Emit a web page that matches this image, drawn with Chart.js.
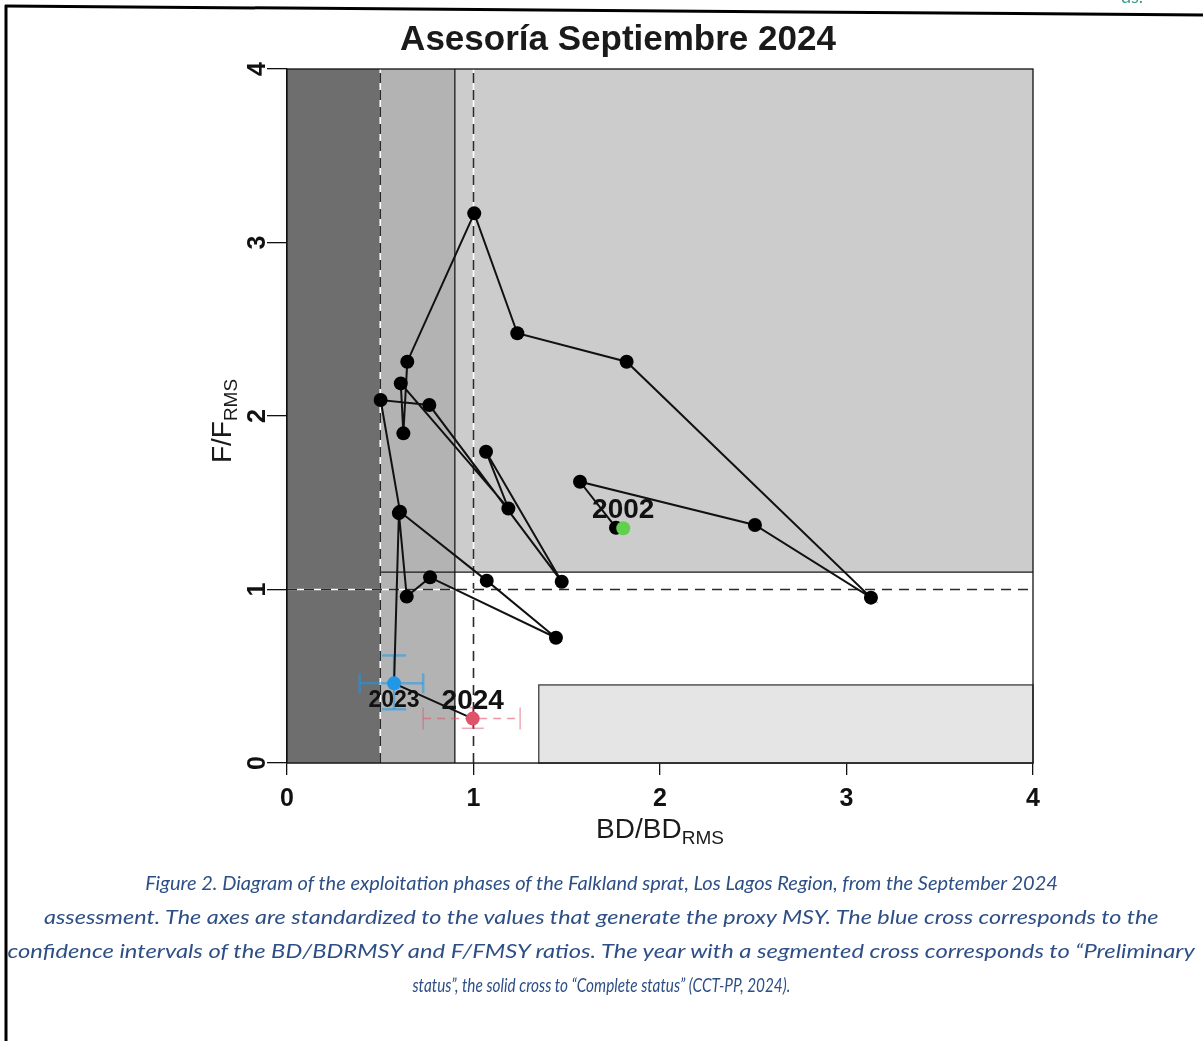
<!DOCTYPE html>
<html>
<head>
<meta charset="utf-8">
<script src="https://cdn.jsdelivr.net/npm/chart.js@4.4.1/dist/chart.umd.min.js"></script>
<style>
  html, body { margin: 0; padding: 0; background: #fff; }
  #wrap { position: relative; width: 1203px; height: 1041px; overflow: hidden; background: #fff; }
  #c { position: absolute; left: 0; top: 0; }
  #frame { position: absolute; left: 0; top: 0; pointer-events: none; }
  .cap { position: absolute; left: -1000px; width: 3203px; text-align: center; white-space: nowrap;
         font-family: Lato, "Open Sans", sans-serif; font-style: italic; font-size: 20px;
         line-height: 24px; color: #2d4f86; }
  .cap span { display: inline-block; transform-origin: center center; }
  #hdr { position: absolute; left: 1121px; top: -15px; font-family: Lato, sans-serif; font-size: 18px; color: #3a9c8c; }
</style>
</head>
<body>
<div id="wrap">
  <canvas id="c" width="1203" height="1041"></canvas>
  <svg id="frame" width="1203" height="1041">
    <line x1="6" y1="5" x2="6" y2="1041" stroke="#000" stroke-width="3"/>
    <line x1="5" y1="6" x2="1203" y2="15" stroke="#000" stroke-width="3"/>
  </svg>
  <div id="hdr">ds.</div>
  <div class="cap" style="top:870px"><span data-w="913">Figure 2. Diagram of the exploitation phases of the Falkland sprat, Los Lagos Region, from the September 2024</span></div>
  <div class="cap" style="top:904px"><span data-w="1115">assessment. The axes are standardized to the values that generate the proxy MSY. The blue cross corresponds to the</span></div>
  <div class="cap" style="top:938px"><span data-w="1187">confidence intervals of the BD/BDRMSY and F/FMSY ratios. The year with a segmented cross corresponds to “Preliminary</span></div>
  <div class="cap" style="top:972px"><span data-w="378">status”, the solid cross to “Complete status” (CCT-PP, 2024).</span></div>
</div>
<script>
// Stock trajectory 2002-2024: biomass ratio BD/BD_RMS and fishing ratio F/F_RMS
const years   = [2002, 2003, 2004, 2005, 2006, 2007, 2008, 2009, 2010, 2011, 2012,
                 2013, 2014, 2015, 2016, 2017, 2018, 2019, 2020, 2021, 2022, 2023, 2024];
const bdRatio = [1.764, 1.571, 2.509, 3.131, 1.821, 1.235, 1.004, 0.645, 0.624, 0.610, 1.187,
                 1.067, 1.473, 0.763, 0.502, 0.606, 1.071, 1.442, 0.767, 0.642, 0.600, 0.574, 0.996];
const fRatio  = [1.356, 1.621, 1.372, 0.953, 2.313, 2.477, 3.168, 2.313, 1.900, 2.188, 1.467,
                 1.794, 1.045, 2.063, 2.092, 1.448, 1.051, 0.722, 1.070, 0.959, 1.440, 0.459, 0.256];

// start-year marker
const startBD = [1.803];
const startF  = [1.353];

// confidence intervals: 2023 (complete status) and 2024 (preliminary status)
const ci2023BD = [0.39, 0.73];
const ci2023F  = [0.31, 0.62];
const ci2024BD = [0.73, 1.25];
const ci2024F  = [0.20, 0.32];

// reference points and zone limits
const bdLimit = 0.5, bdTarget = 1, fTarget = 1;
const bdZone = 0.9, fZone = 1.1;
const recoveryBD = 1.35, recoveryF = 0.45;

const axisMin = 0, axisMax = 4;
const tickStep = 1;
const labelledYears = [2002, 2023, 2024];

const FONT = '"Liberation Sans", Arial, sans-serif';
const nLast = years.length - 1;
const pointColors = years.map((y, i) => i === nLast ? '#DF536B' : (i === nLast - 1 ? '#2297E6' : '#000000'));

const zonesPlugin = {
  id: 'zones',
  beforeDatasetsDraw(chart) {
    const { ctx, chartArea: a, scales: { x, y } } = chart;
    const px = v => x.getPixelForValue(v);
    const py = v => y.getPixelForValue(v);
    ctx.save();
    ctx.fillStyle = '#ffffff';
    ctx.fillRect(a.left, a.top, a.right - a.left, a.bottom - a.top);
    // collapse zone
    ctx.fillStyle = '#6e6e6e';
    ctx.fillRect(px(axisMin), py(axisMax), px(bdLimit) - px(axisMin), py(axisMin) - py(axisMax));
    // overexploited biomass
    ctx.fillStyle = '#b3b3b3';
    ctx.fillRect(px(bdLimit), py(axisMax), px(bdZone) - px(bdLimit), py(axisMin) - py(axisMax));
    // overfishing
    ctx.fillStyle = '#cccccc';
    ctx.fillRect(px(bdZone), py(axisMax), px(axisMax) - px(bdZone), py(fZone) - py(axisMax));
    // under-exploited
    ctx.fillStyle = '#e5e5e5';
    ctx.fillRect(px(recoveryBD), py(recoveryF), px(axisMax) - px(recoveryBD), py(axisMin) - py(recoveryF));
    ctx.strokeStyle = '#3c3c3c';
    ctx.lineWidth = 1.3;
    ctx.strokeRect(px(recoveryBD), py(recoveryF), px(axisMax) - px(recoveryBD), py(axisMin) - py(recoveryF));

    // solid zone borders
    ctx.strokeStyle = '#1a1a1a';
    ctx.lineWidth = 1.3;
    ctx.beginPath();
    ctx.moveTo(px(bdZone), py(axisMin)); ctx.lineTo(px(bdZone), py(axisMax));
    ctx.moveTo(px(bdLimit), py(fZone)); ctx.lineTo(px(axisMax), py(fZone));
    ctx.stroke();

    // reference dashed lines (white under-stroke, dark dashes)
    const refs = [
      [px(bdLimit), py(axisMin), px(bdLimit), py(axisMax)],
      [px(bdTarget), py(axisMin), px(bdTarget), py(axisMax)],
      [px(axisMin), py(fTarget), px(axisMax), py(fTarget)]
    ];
    refs.forEach(r => {
      ctx.setLineDash([]);
      ctx.strokeStyle = '#ffffff';
      ctx.lineWidth = 1.6;
      ctx.beginPath(); ctx.moveTo(r[0], r[1]); ctx.lineTo(r[2], r[3]); ctx.stroke();
      ctx.setLineDash([10, 7]);
      ctx.strokeStyle = '#2a2a2a';
      ctx.lineWidth = 1.6;
      ctx.beginPath(); ctx.moveTo(r[0], r[1]); ctx.lineTo(r[2], r[3]); ctx.stroke();
    });
    ctx.setLineDash([]);
    // plot box
    ctx.strokeStyle = '#111';
    ctx.lineWidth = 1.3;
    ctx.strokeRect(a.left, a.top, a.right - a.left, a.bottom - a.top);
    ctx.restore();
  }
};

const textPlugin = {
  id: 'texts',
  afterDatasetsDraw(chart) {
    const { ctx, scales: { x, y } } = chart;
    ctx.save();
    ctx.fillStyle = '#111';
    ctx.textAlign = 'center';
    ctx.textBaseline = 'middle';
    const i0 = years.indexOf(labelledYears[0]);
    const i1 = years.indexOf(labelledYears[1]);
    const i2 = years.indexOf(labelledYears[2]);
    ctx.font = 'bold 28px ' + FONT;
    ctx.fillText(String(years[i0]), x.getPixelForValue(startBD[0]), y.getPixelForValue(startF[0]) - 18);
    ctx.font = 'bold 23px ' + FONT;
    ctx.fillText(String(years[i1]), x.getPixelForValue(bdRatio[i1]), y.getPixelForValue(fRatio[i1]) + 17);
    ctx.font = 'bold 28px ' + FONT;
    ctx.fillText(String(years[i2]), x.getPixelForValue(bdRatio[i2]), y.getPixelForValue(fRatio[i2]) - 17);
    ctx.restore();
  },
  afterDraw(chart) {
    const { ctx, chartArea: a } = chart;
    ctx.save();
    ctx.fillStyle = '#1a1a1a';
    ctx.textBaseline = 'alphabetic';
    ctx.textAlign = 'left';
    // x-axis title with subscript
    const main = 'BD/BD', sub = 'RMS';
    ctx.font = '28px ' + FONT;
    const wm = ctx.measureText(main).width;
    ctx.font = '19px ' + FONT;
    const ws = ctx.measureText(sub).width;
    const cx = (a.left + a.right) / 2;
    const sx = cx - (wm + ws) / 2;
    ctx.font = '28px ' + FONT;
    ctx.fillText(main, sx, 838);
    ctx.font = '19px ' + FONT;
    ctx.fillText(sub, sx + wm, 844);
    // y-axis title with subscript (rotated)
    const ymain = 'F/F';
    ctx.font = '28px ' + FONT;
    const wym = ctx.measureText(ymain).width;
    ctx.font = '19px ' + FONT;
    const wys = ctx.measureText(sub).width;
    ctx.translate(231, 421);
    ctx.rotate(-Math.PI / 2);
    const sy = -(wym + wys) / 2;
    ctx.font = '28px ' + FONT;
    ctx.fillText(ymain, sy, 0);
    ctx.font = '19px ' + FONT;
    ctx.fillText(sub, sy + wym, 6);
    ctx.restore();
  }
};

const trajectory = years.map((yr, i) => ({ x: bdRatio[i], y: fRatio[i] }));

new Chart(document.getElementById('c'), {
  type: 'scatter',
  data: {
    datasets: [
      {
        label: 'Trayectoria',
        data: trajectory,
        showLine: true,
        borderColor: '#111111',
        borderWidth: 2,
        pointRadius: 7,
        pointBorderWidth: 0,
        pointBackgroundColor: pointColors,
        order: 2
      },
      {
        label: 'Inicio',
        data: startBD.map((v, i) => ({ x: v, y: startF[i] })),
        pointRadius: 7,
        pointBorderWidth: 0,
        pointBackgroundColor: '#61D04F',
        order: 1
      },
      {
        label: 'IC 2023 BD',
        data: ci2023BD.map(v => ({ x: v, y: fRatio[nLast - 1] })),
        showLine: true,
        borderColor: 'rgba(34,151,230,0.55)',
        borderWidth: 2.5,
        pointStyle: 'line',
        pointRadius: 10,
        pointRotation: 90,
        pointBorderColor: 'rgba(34,151,230,0.55)',
        pointBorderWidth: 2.5,
        order: 5
      },
      {
        label: 'IC 2023 F',
        data: ci2023F.map(v => ({ x: bdRatio[nLast - 1], y: v })),
        showLine: true,
        borderColor: 'rgba(34,151,230,0.55)',
        borderWidth: 2.5,
        pointStyle: 'line',
        pointRadius: 12,
        pointRotation: 0,
        pointBorderColor: 'rgba(34,151,230,0.55)',
        pointBorderWidth: 2.5,
        order: 5
      },
      {
        label: 'IC 2024 BD',
        data: ci2024BD.map(v => ({ x: v, y: fRatio[nLast] })),
        showLine: true,
        borderColor: 'rgba(223,83,107,0.6)',
        borderWidth: 1.5,
        borderDash: [8, 6],
        pointStyle: 'line',
        pointRadius: 11,
        pointRotation: 90,
        pointBorderColor: 'rgba(223,83,107,0.5)',
        pointBorderWidth: 1.5,
        order: 5
      },
      {
        label: 'IC 2024 F',
        data: ci2024F.map(v => ({ x: bdRatio[nLast], y: v })),
        showLine: true,
        borderColor: 'rgba(223,83,107,0.6)',
        borderWidth: 1.5,
        borderDash: [8, 6],
        pointStyle: 'line',
        pointRadius: 11,
        pointRotation: 0,
        pointBorderColor: 'rgba(223,83,107,0.5)',
        pointBorderWidth: 1.5,
        order: 5
      }
    ]
  },
  options: {
    responsive: false,
    animation: false,
    events: [],
    layout: { padding: { left: 203, right: 170, top: 0, bottom: 188 } },
    plugins: {
      legend: { display: false },
      tooltip: { enabled: false },
      title: {
        display: true,
        text: 'Asesoría Septiembre 2024',
        color: '#1a1a1a',
        font: { family: FONT, size: 35, weight: 'bold', lineHeight: 1.2 },
        padding: { top: 19, bottom: 8 }
      }
    },
    scales: {
      x: {
        type: 'linear',
        min: axisMin, max: axisMax,
        ticks: { stepSize: tickStep, color: '#111', padding: 9,
                 font: { family: FONT, size: 25, weight: 'bold' } },
        grid: { drawOnChartArea: false, drawTicks: true, tickLength: 12, color: '#111', lineWidth: 1.3 },
        border: { display: true, color: '#111', width: 1.3 },
        afterFit(scale) { scale.height = 90; }
      },
      y: {
        type: 'linear',
        min: axisMin, max: axisMax,
        ticks: { stepSize: tickStep, color: '#111', padding: 2, minRotation: 90, maxRotation: 90,
                 crossAlign: 'center', font: { family: FONT, size: 25, weight: 'bold' } },
        grid: { drawOnChartArea: false, drawTicks: true, tickLength: 20, color: '#111', lineWidth: 1.3 },
        border: { display: true, color: '#111', width: 1.3 },
        afterFit(scale) { scale.width = 84; }
      }
    }
  },
  plugins: [zonesPlugin, textPlugin]
});

// caption: each line is fitted horizontally to its set width
function fitCaption() {
  document.querySelectorAll('.cap span').forEach(s => {
    s.style.transform = '';
    const target = parseFloat(s.dataset.w);
    const w = s.offsetWidth;
    if (w > 0) s.style.transform = 'scaleX(' + (target / w).toFixed(4) + ')';
  });
}
fitCaption();
if (document.fonts && document.fonts.ready) document.fonts.ready.then(fitCaption);
</script>
</body>
</html>
